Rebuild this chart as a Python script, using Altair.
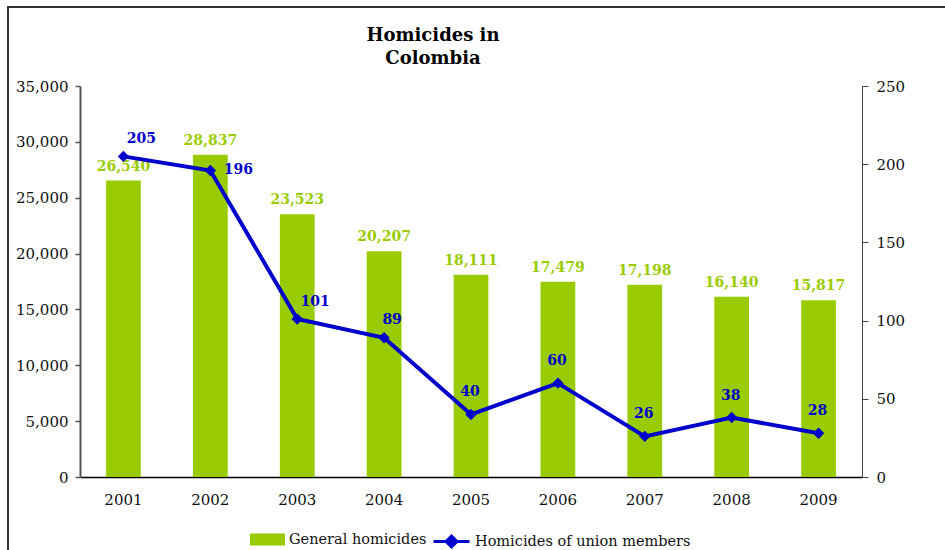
import altair as alt
import pandas as pd

years = ["2001", "2002", "2003", "2004", "2005", "2006", "2007", "2008", "2009"]
general = [26540, 28837, 23523, 20207, 18111, 17479, 17198, 16140, 15817]
union = [205, 196, 101, 89, 40, 60, 26, 38, 28]

GREEN = "#99CC00"
BLUE = "#0000CC"
FONT = "DejaVu Serif"

df = pd.DataFrame({"year": years, "general": general, "union": union})
base = alt.Chart(df)

x_scale = alt.Scale(paddingInner=0.6, paddingOuter=0.3)
x_axis = alt.Axis(title=None, labelAngle=0, ticks=False, domainColor="#000", domainWidth=1.5,
                  labelPadding=15, labelFont=FONT, labelFontSize=15, labelColor="#111")
X = alt.X("year:N", scale=x_scale, axis=x_axis)

y_left = alt.Y("general:Q", scale=alt.Scale(domain=[0, 35000], nice=False),
               axis=alt.Axis(title=None, values=list(range(0, 35001, 5000)),
                             labelExpr="format(datum.value, ',')",
                             grid=False, domainColor="#555", domainWidth=2, tickColor="#555",
                             tickWidth=1.5, tickSize=5, labelPadding=7, labelFont=FONT,
                             labelFontSize=15, labelColor="#111"))

bars = base.transform_calculate(series="'General homicides'").mark_bar(color=GREEN).encode(
    x=X, y=y_left,
    fill=alt.Fill("series:N", scale=alt.Scale(domain=["General homicides"], range=[GREEN]),
                  legend=alt.Legend(title=None, orient="none", legendX=170, legendY=436, padding=0,
                                    symbolType="M-1,-0.34H1V0.34H-1Z", labelOffset=4,
                                    symbolSize=1225, symbolStrokeWidth=0, labelFont=FONT,
                                    labelFontSize=14.5, labelColor="#111", symbolOpacity=1,
                                    labelLimit=400)))

bar_text = base.mark_text(font=FONT, fontSize=14, fontWeight="bold", color=GREEN, dy=-14).encode(
    x=X, y=y_left, text=alt.Text("general:Q", format=","))

frame_top = alt.Chart(df).mark_rule(color="#333", strokeWidth=2).encode(
    x=alt.value(-73), x2=alt.value(880), y=alt.value(-79))
frame_left = alt.Chart(df).mark_rule(color="#333", strokeWidth=2).encode(
    x=alt.value(-72), y=alt.value(-80), y2=alt.value(470))

left = alt.layer(frame_top, frame_left, bars, bar_text)

y_right = alt.Y("union:Q", scale=alt.Scale(domain=[0, 250], nice=False),
                axis=alt.Axis(title=None, orient="right", values=list(range(0, 251, 50)),
                              grid=False, domainColor="#444", domainWidth=1, tickColor="#444",
                              tickSize=6, labelPadding=8, labelFont=FONT, labelFontSize=15,
                              labelColor="#111"))

line = base.transform_calculate(series="'Homicides of union members'").mark_line(strokeWidth=4).encode(
    x=X, y=y_right,
    stroke=alt.Stroke("series:N", scale=alt.Scale(domain=["Homicides of union members"], range=[BLUE]),
                      legend=alt.Legend(title=None, orient="none", legendX=352, legendY=436, padding=0,
                                        symbolType="M-1,0H1M-0.3,0L0,-0.3L0.3,0L0,0.3Z",
                                        symbolSize=1296, symbolStrokeWidth=3, labelOffset=4,
                                        symbolFillColor=BLUE, labelFont=FONT,
                                        labelFontSize=14.5, labelColor="#111", labelLimit=400)))

points = base.mark_point(shape="diamond", filled=True, size=130, color=BLUE, opacity=1).encode(
    x=X, y=y_right)

lab_style = dict(font=FONT, fontSize=14, fontWeight="bold", color=BLUE)
lab_a = base.transform_filter(alt.FieldOneOfPredicate(field="year", oneOf=["2001", "2003"])).mark_text(
    dx=18, dy=-17, **lab_style).encode(x=X, y=y_right, text="union:Q")
lab_b = base.transform_filter(alt.FieldOneOfPredicate(field="year", oneOf=["2002"])).mark_text(
    dx=28, dy=0, **lab_style).encode(x=X, y=y_right, text="union:Q")
lab_c = base.transform_filter(alt.FieldOneOfPredicate(field="year", oneOf=["2004"])).mark_text(
    dx=8, dy=-18, **lab_style).encode(x=X, y=y_right, text="union:Q")
lab_d = base.transform_filter(
    alt.FieldOneOfPredicate(field="year", oneOf=["2005", "2006", "2007", "2008", "2009"])).mark_text(
    dx=-1, dy=-22, **lab_style).encode(x=X, y=y_right, text="union:Q")

right = alt.layer(line, points, lab_a, lab_b, lab_c, lab_d)

chart = alt.layer(left, right).resolve_scale(y="independent", fill="independent", stroke="independent").properties(
    width=782, height=391,
    autosize=alt.AutoSizeParams(type="none"),
    padding={"left": 80, "top": 86, "right": 83, "bottom": 73},
    title=alt.Title(["Homicides in", "Colombia"], font=FONT, fontSize=18, fontWeight="bold",
                    color="#000", anchor="middle", frame="group", orient="none", align="center",
                    baseline="top", dx=353, dy=-59, lineHeight=23),
).configure_view(stroke=None)

chart.save("out.html", embed_options={"renderer": "svg", "actions": False})
